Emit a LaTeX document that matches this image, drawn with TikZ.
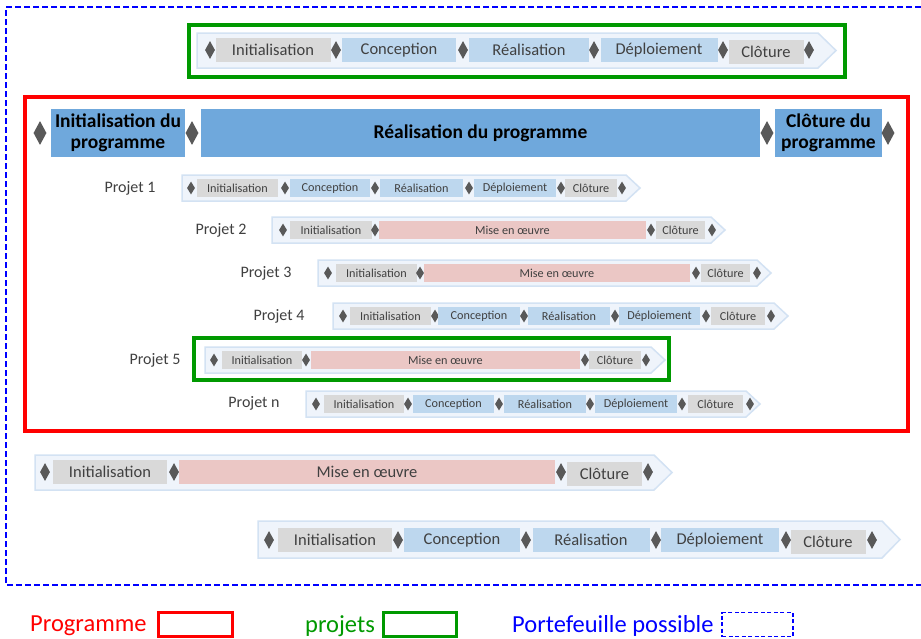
\documentclass[tikz,border=0pt]{standalone}
\usepackage{fontspec}
\setmainfont{Carlito}
\usetikzlibrary{shapes.geometric}
\definecolor{grayph}{HTML}{D9D9D9}
\definecolor{blueph}{HTML}{BDD7EE}
\definecolor{pinkph}{HTML}{EBC7C5}
\definecolor{progph}{HTML}{6FA8DC}
\definecolor{diac}{HTML}{595959}
\definecolor{chevfill}{HTML}{EFF4FB}
\definecolor{chevdraw}{HTML}{D3E2F3}
\definecolor{txt}{HTML}{404040}
\definecolor{redc}{HTML}{FF0000}
\definecolor{greenc}{HTML}{009900}
\definecolor{bluec}{HTML}{0000FF}
\newcommand\fbig{\fontsize{16.5}{18}\selectfont}
\newcommand\fsmall{\fontsize{12.2}{14}\selectfont}
\newcommand\fprog{\fontsize{19.5}{21}\selectfont\bfseries}
\newcommand\flab{\fontsize{16}{18}\selectfont}
\newcommand\fleg{\fontsize{24.5}{27}\selectfont}
\newcommand\chev[5]{\draw[chev] (#2,#3) -- ({#4-#5},#3) -- (#4,{(#3+#1)/2}) -- ({#4-#5},#1) -- (#2,#1) -- cycle;}
\newcommand\dmd[4]{\node[dia,#4] (#1) at (#2,#3) {};}
\begin{document}
\begin{tikzpicture}[x=1pt,y=-1pt,
  chev/.style={fill=chevfill,draw=chevdraw,line width=1.5pt},
  ph/.style={rectangle,inner sep=0pt,text=txt},
  gr/.style={ph,fill=grayph},
  bl/.style={ph,fill=blueph},
  pk/.style={ph,fill=pinkph},
  pg/.style={ph,fill=progph,text=black,align=center},
  dia/.style={diamond,fill=diac,inner sep=0pt},
  dbig/.style={minimum width=10pt,minimum height=18pt},
  dsm/.style={minimum width=8pt,minimum height=13pt},
  dprog/.style={minimum width=13pt,minimum height=24pt},
  bigrow/.style={minimum height=24pt,font=\fbig},
  smrow/.style={minimum height=18pt,font=\fsmall},
  lab/.style={text=txt,font=\flab,inner sep=0pt},
  legtxt/.style={font=\fleg,inner sep=0pt,anchor=west},
  legbox/.style={rectangle,minimum width=73pt,minimum height=24pt,inner sep=0pt}]
\useasboundingbox (0,0) rectangle (921,638);
\fill[white] (0,0) rectangle (921,638);

% portefeuille (dashed blue)
\draw[bluec,line width=1.6pt,dash pattern=on 6pt off 3pt] (921,7) -- (6,7) -- (6,585) -- (921,585);

% ===== Top project (green) =====
\chev{68}{197}{33}{836}{18}
\dmd{ta}{210}{50}{dbig}
\node[gr,bigrow,minimum width=115pt] (t1) at (273,50) {Initialisation};
\dmd{tb}{336}{50}{dbig}
\node[bl,bigrow,minimum width=114pt] (t2) at (399,50) {Conception};
\dmd{tc}{463}{50}{dbig}
\node[bl,bigrow,minimum width=120pt] (t3) at (529,50) {Réalisation};
\dmd{td}{594}{50}{dbig}
\node[bl,bigrow,minimum width=117pt] (t4) at (659,50) {Déploiement};
\dmd{te}{723}{50}{dbig}
\node[gr,bigrow,minimum width=75pt] (t5) at (766,51.5) {Clôture};
\dmd{tf}{809}{50}{dbig}
\draw[greenc,line width=3.5pt] (189,25) rectangle (845,77);

% ===== Programme (red) =====
\dmd{pa}{40}{133}{dprog}
\node[pg,minimum width=134pt,minimum height=48pt,font=\fprog] (p1) at (118,133) {Initialisation du\\programme};
\dmd{pb}{192}{133}{dprog}
\node[pg,minimum width=559pt,minimum height=48pt,font=\fprog] (p2) at (480.5,133) {Réalisation du programme};
\dmd{pc}{767}{133}{dprog}
\node[pg,minimum width=107pt,minimum height=48pt,font=\fprog] (p3) at (828.5,133) {Clôture du\\programme};
\dmd{pd}{888}{133}{dprog}

% Projet 1
\node[lab] (l1) at (130,188) {Projet 1};
\chev{201}{182}{175}{640}{14}
\dmd{aa}{191}{188}{dsm}
\node[gr,smrow,minimum width=81pt] (a1) at (237.5,188) {Initialisation};
\dmd{ab}{285}{188}{dsm}
\node[bl,smrow,minimum width=80pt] (a2) at (330,188) {Conception};
\dmd{ac}{375}{188}{dsm}
\node[bl,smrow,minimum width=83pt] (a3) at (421.5,188) {Réalisation};
\dmd{ad}{469}{188}{dsm}
\node[bl,smrow,minimum width=82pt] (a4) at (515,188) {Déploiement};
\dmd{ae}{561}{188}{dsm}
\node[gr,smrow,minimum width=52pt] (a5) at (591,188) {Clôture};
\dmd{af}{622}{188}{dsm}

% Projet 2
\node[lab] (l2) at (221,230) {Projet 2};
\chev{243}{272}{217}{725}{14}
\dmd{ba}{283}{230}{dsm}
\node[gr,smrow,minimum width=82pt] (b1) at (331,230) {Initialisation};
\dmd{bb}{375}{230}{dsm}
\node[pk,smrow,minimum width=267pt] (b2) at (512.5,230) {Mise en œuvre};
\dmd{bc}{651}{230}{dsm}
\node[gr,smrow,minimum width=49pt] (b3) at (680.5,230) {Clôture};
\dmd{bd}{712}{230}{dsm}

% Projet 3
\node[lab] (l3) at (266,273) {Projet 3};
\chev{286}{318}{260}{771}{14}
\dmd{ca}{328}{273}{dsm}
\node[gr,smrow,minimum width=81pt] (c1) at (376.5,273) {Initialisation};
\dmd{cb}{420}{273}{dsm}
\node[pk,smrow,minimum width=266pt] (c2) at (557,273) {Mise en œuvre};
\dmd{cc}{696}{273}{dsm}
\node[gr,smrow,minimum width=49pt] (c3) at (725.5,273) {Clôture};
\dmd{cd}{757}{273}{dsm}

% Projet 4
\node[lab] (l4) at (279,316) {Projet 4};
\chev{329}{333}{303}{788}{14}
\dmd{da}{343}{316}{dsm}
\node[gr,smrow,minimum width=81pt] (d1) at (390.5,316) {Initialisation};
\dmd{db}{435}{316}{dsm}
\node[bl,smrow,minimum width=82pt] (d2) at (479,316) {Conception};
\dmd{dc}{524}{316}{dsm}
\node[bl,smrow,minimum width=82pt] (d3) at (569,316) {Réalisation};
\dmd{dd}{615}{316}{dsm}
\node[bl,smrow,minimum width=81pt] (d4) at (659.5,316) {Déploiement};
\dmd{de}{706}{316}{dsm}
\node[gr,smrow,minimum width=54pt] (d5) at (738,316) {Clôture};
\dmd{df}{771}{316}{dsm}

% Projet 5 (green)
\node[lab] (l5) at (155,360) {Projet 5};
\chev{373}{205}{347}{665}{14}
\dmd{ea}{214}{360}{dsm}
\node[gr,smrow,minimum width=80pt] (e1) at (262,360) {Initialisation};
\dmd{eb}{306}{360}{dsm}
\node[pk,smrow,minimum width=269pt] (e2) at (445.5,360) {Mise en œuvre};
\dmd{ec}{585}{360}{dsm}
\node[gr,smrow,minimum width=52pt] (e3) at (615,360) {Clôture};
\dmd{ed}{646}{360}{dsm}
\draw[greenc,line width=3.5pt] (194,338) rectangle (669,380);

% Projet n
\node[lab] (ln) at (254,403) {Projet n};
\chev{417}{306}{391}{760}{14}
\dmd{fa}{316}{404}{dsm}
\node[gr,smrow,minimum width=80pt] (f1) at (364,404) {Initialisation};
\dmd{fb}{408}{404}{dsm}
\node[bl,smrow,minimum width=81pt] (f2) at (453.5,404) {Conception};
\dmd{fc}{499}{404}{dsm}
\node[bl,smrow,minimum width=82pt] (f3) at (545,404) {Réalisation};
\dmd{fd}{590}{404}{dsm}
\node[bl,smrow,minimum width=82pt] (f4) at (636,404) {Déploiement};
\dmd{fe}{682}{404}{dsm}
\node[gr,smrow,minimum width=55pt] (f5) at (715.5,404) {Clôture};
\dmd{ff}{750}{404}{dsm}

\draw[redc,line width=3.5pt] (25,97) rectangle (908,431);

% ===== Bottom project 1 =====
\chev{490}{35}{455}{672}{18}
\dmd{ga}{45}{472}{dbig}
\node[gr,bigrow,minimum width=114pt] (g1) at (110,472) {Initialisation};
\dmd{gb}{174}{472}{dbig}
\node[pk,bigrow,minimum width=376pt] (g2) at (367,472) {Mise en œuvre};
\dmd{gc}{561}{472}{dbig}
\node[gr,bigrow,minimum width=75pt] (g3) at (604.5,474) {Clôture};
\dmd{gd}{648}{472}{dbig}

% ===== Bottom project 2 =====
\chev{558}{258}{521}{900}{18}
\dmd{ha}{269}{540}{dbig}
\node[gr,bigrow,minimum width=114pt] (h1) at (335,540) {Initialisation};
\dmd{hb}{398}{540}{dbig}
\node[bl,bigrow,minimum width=116pt] (h2) at (462,540) {Conception};
\dmd{hc}{526}{540}{dbig}
\node[bl,bigrow,minimum width=117pt] (h3) at (591,540) {Réalisation};
\dmd{hd}{656}{540}{dbig}
\node[bl,bigrow,minimum width=118pt] (h4) at (720,540) {Déploiement};
\dmd{he}{786}{540}{dbig}
\node[gr,bigrow,minimum width=75pt] (h5) at (828,542) {Clôture};
\dmd{hf}{872}{540}{dbig}

% ===== Legend =====
\node[legtxt,text=redc] (lg1) at (30,626) {Programme};
\node[legbox,draw=redc,line width=3pt,minimum width=74pt] (lb1) at (195,624.5) {};
\node[legtxt,text=greenc] (lg2) at (305,626) {projets};
\node[legbox,draw=greenc,line width=3pt] (lb2) at (419.5,624.5) {};
\node[legtxt,text=bluec] (lg3) at (512,626) {Portefeuille possible};
\node[legbox,draw=bluec,line width=1.4pt,dash pattern=on 4pt off 2.5pt,minimum width=71pt] (lb3) at (757.5,624.5) {};
\end{tikzpicture}
\end{document}
